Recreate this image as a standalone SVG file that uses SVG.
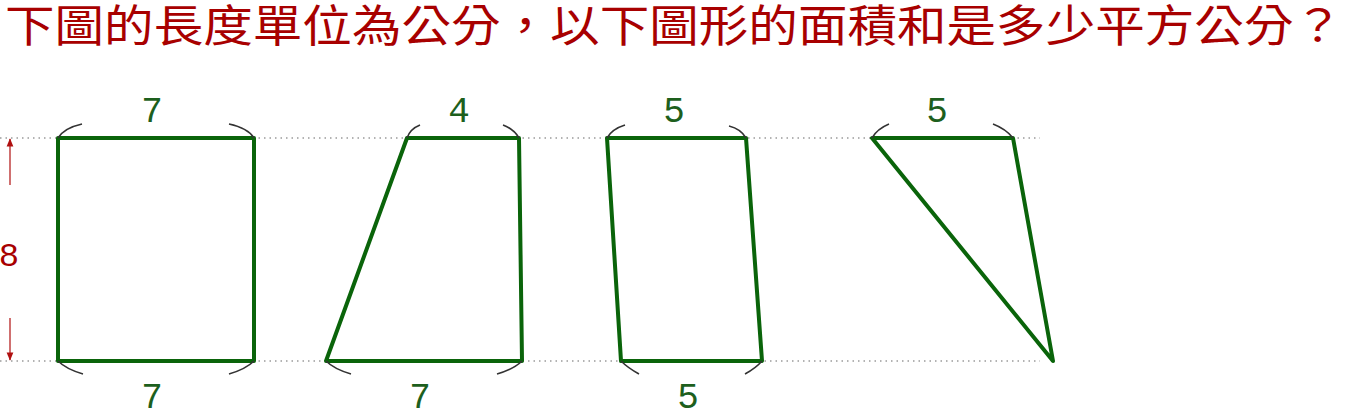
<svg xmlns="http://www.w3.org/2000/svg" width="1351" height="410" viewBox="0 0 1351 410">
<style>
.title{font-family:"Noto Sans CJK TC","Noto Sans CJK SC",sans-serif;font-size:44px;fill:#a80000}
.shape{fill:none;stroke:#0a640a;stroke-width:4;stroke-linejoin:round;stroke-linecap:round}
.guide{stroke:#9a9a9a;stroke-width:1.5;stroke-dasharray:1.5 4;fill:none}
.mark{fill:none;stroke:#333;stroke-width:1.6}
.num{font-family:"Liberation Mono",monospace;font-size:36px;fill:#1d5f1d;text-anchor:middle}
.red{font-family:"Liberation Mono",monospace;font-size:34px;fill:#a80000;text-anchor:middle}
.arr{stroke:#b01010;stroke-width:1.2;fill:none}
</style>
<defs>
<marker id="ah" viewBox="0 0 10 10" refX="9" refY="5" markerWidth="7" markerHeight="7" orient="auto">
<path d="M0,1 L10,5 L0,9 z" fill="#b01010"/>
</marker>
</defs>
<rect width="1351" height="410" fill="#fff"/>
<text class="title" x="5" y="42" textLength="1338" lengthAdjust="spacingAndGlyphs">下圖的長度單位為公分，以下圖形的面積和是多少平方公分？</text>
<g id="guides">
<line class="guide" x1="0" y1="138" x2="1040" y2="138"/>
<line class="guide" x1="0" y1="361" x2="1040" y2="361"/>
</g>
<g id="height">
<line class="arr" x1="10" y1="185" x2="10" y2="139" marker-end="url(#ah)"/>
<line class="arr" x1="10" y1="318" x2="10" y2="360" marker-end="url(#ah)"/>
<text class="red" x="9" y="266">8</text>
</g>
<g id="rect">
<rect class="shape" x="58" y="138" width="196" height="223"/>
<path class="mark" d="M58,138 Q64,128 82,124 M254,138 Q248,128 229,124 M58,361 Q66,369 83,374 M254,361 Q246,369 229,374"/>
<text class="num" x="152" y="122">7</text>
<text class="num" x="152" y="408">7</text>
</g>
<g id="trapezoid">
<path class="shape" d="M326,361 L407,138 L519,138 L522,361 Z"/>
<path class="mark" d="M407,138 Q410,129 420,125 M519,138 Q514,129 503,125 M326,361 Q334,369 351,374 M522,361 Q514,369 497,374"/>
<text class="num" x="459" y="122">4</text>
<text class="num" x="420" y="408">7</text>
</g>
<g id="quad">
<path class="shape" d="M621,361 L607,138 L746,138 L762,361 Z"/>
<path class="mark" d="M607,138 Q612,129 625,125 M746,138 Q741,129 729,126 M621,361 Q628,368 639,374 M762,361 Q756,368 745,374"/>
<text class="num" x="674" y="122">5</text>
<text class="num" x="688" y="408">5</text>
</g>
<g id="triangle">
<path class="shape" d="M872,138 L1013,138 L1053,361 Z"/>
<path class="mark" d="M872,138 Q877,129 889,124 M1013,138 Q1006,129 993,124"/>
<text class="num" x="937" y="122">5</text>
</g>
</svg>
